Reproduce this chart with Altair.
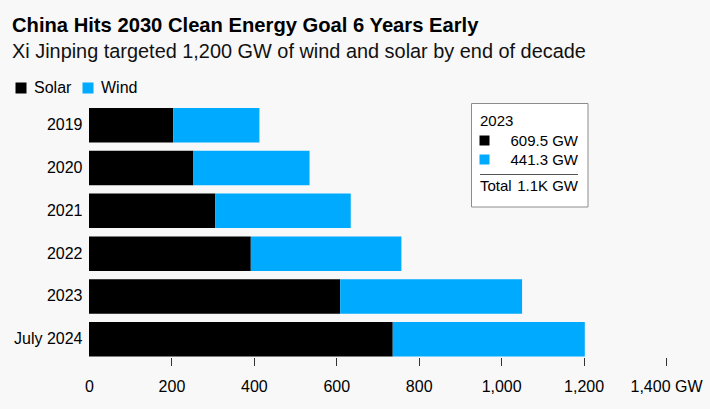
import altair as alt
import pandas as pd

# ---- data ----
periods = ["2019", "2020", "2021", "2022", "2023", "July 2024"]
solar_gw = [204.3, 253.4, 306.6, 392.6, 609.5, 737.0]
wind_gw = [209.2, 281.7, 328.5, 365.4, 441.3, 466.0]
series = ["Solar", "Wind"]
series_colors = ["#000000", "#00aaff"]
x_ticks = [0, 200, 400, 600, 800, 1000, 1200, 1400]

FONT = "Liberation Sans"

rows = []
for p, s, w in zip(periods, solar_gw, wind_gw):
    rows.append({"period": p, "series": "Solar", "value": s, "ord": 0})
    rows.append({"period": p, "series": "Wind", "value": w, "ord": 1})
df = pd.DataFrame(rows)

bars = alt.Chart(df).mark_bar().encode(
    y=alt.Y(
        "period:N",
        sort=periods,
        scale=alt.Scale(paddingInner=0.194, paddingOuter=0),
        axis=alt.Axis(
            title=None, ticks=False, domain=False, labelPadding=7,
            labelFontSize=16, labelColor="#000000", labelFont=FONT,
        ),
    ),
    x=alt.X(
        "value:Q",
        stack="zero",
        scale=alt.Scale(domain=[0, 1400], nice=False),
        axis=alt.Axis(
            title=None, values=x_ticks, domain=False, grid=False,
            tickSize=8, offset=1,
            tickColor=alt.ExprRef(expr="datum.value == 0 ? 'transparent' : '#333333'"),
            labelExpr="datum.value == 1400 ? datum.label + ' GW' : datum.label",
            labelFontSize=16, labelColor="#000000", labelFont=FONT, labelPadding=13,
            labelFlush=False, labelOverlap=False,
        ),
    ),
    color=alt.Color(
        "series:N",
        scale=alt.Scale(domain=series, range=series_colors),
        legend=alt.Legend(
            title=None, orient="none", direction="horizontal",
            legendX=-76, legendY=-28, symbolType="square", symbolSize=121,
            symbolStrokeWidth=0, labelFontSize=16, labelFont=FONT,
            labelColor="#000000", columnPadding=8, labelOffset=5,
        ),
    ),
    order=alt.Order("ord:Q"),
)

# ---- 2023 annotation box ----
sel = periods.index("2023")
total_k = (solar_gw[sel] + wind_gw[sel]) / 1000
one = pd.DataFrame({"a": [0]})

box = alt.Chart(one).mark_rect(fill="#ffffff", stroke="#8c8c8c", strokeWidth=1).encode(
    x=alt.value(382.5), x2=alt.value(499), y=alt.value(-4.5), y2=alt.value(99)
)
t_year = alt.Chart(one).mark_text(
    text=periods[sel], align="left", baseline="middle", fontSize=15, font=FONT, color="#000000"
).encode(x=alt.value(391), y=alt.value(12.5))
sq_solar = alt.Chart(one).mark_square(size=100, color=series_colors[0], opacity=1).encode(
    x=alt.value(395.5), y=alt.value(32.5)
)
sq_wind = alt.Chart(one).mark_square(size=100, color=series_colors[1], opacity=1).encode(
    x=alt.value(395.5), y=alt.value(51.5)
)
t_solar = alt.Chart(one).mark_text(
    text=f"{solar_gw[sel]} GW", align="right", baseline="middle", fontSize=15, font=FONT, color="#000000"
).encode(x=alt.value(489), y=alt.value(33))
t_wind = alt.Chart(one).mark_text(
    text=f"{wind_gw[sel]} GW", align="right", baseline="middle", fontSize=15, font=FONT, color="#000000"
).encode(x=alt.value(489), y=alt.value(52))
sep = alt.Chart(one).mark_rule(color="#555555", strokeWidth=1).encode(
    x=alt.value(391), x2=alt.value(489), y=alt.value(66.5)
)
t_total_l = alt.Chart(one).mark_text(
    text="Total", align="left", baseline="middle", fontSize=15, font=FONT, color="#000000"
).encode(x=alt.value(391), y=alt.value(78))
t_total_r = alt.Chart(one).mark_text(
    text=f"{total_k:.1f}K GW", align="right", baseline="middle", fontSize=15, font=FONT, color="#000000"
).encode(x=alt.value(489), y=alt.value(78))

chart = alt.layer(
    bars, box, t_year, sq_solar, sq_wind, t_solar, t_wind, sep, t_total_l, t_total_r
).properties(
    width=577,
    height=248.5,
    autosize=alt.AutoSizeParams(type="none"),
    padding={"left": 89, "top": 108, "right": 44, "bottom": 52},
    background="#f8f8f8",
    title=alt.TitleParams(
        text="China Hits 2030 Clean Energy Goal 6 Years Early",
        subtitle="Xi Jinping targeted 1,200 GW of wind and solar by end of decade",
        anchor="start", frame="group", dx=-77,
        font=FONT, fontSize=20.2, fontWeight="bold", color="#000000",
        subtitleFont=FONT, subtitleFontSize=19.9, subtitleColor="#111111",
        subtitlePadding=5, offset=18.5,
    ),
).configure_view(stroke=None)

chart.save("out.html", embed_options={"renderer": "svg", "actions": False})
